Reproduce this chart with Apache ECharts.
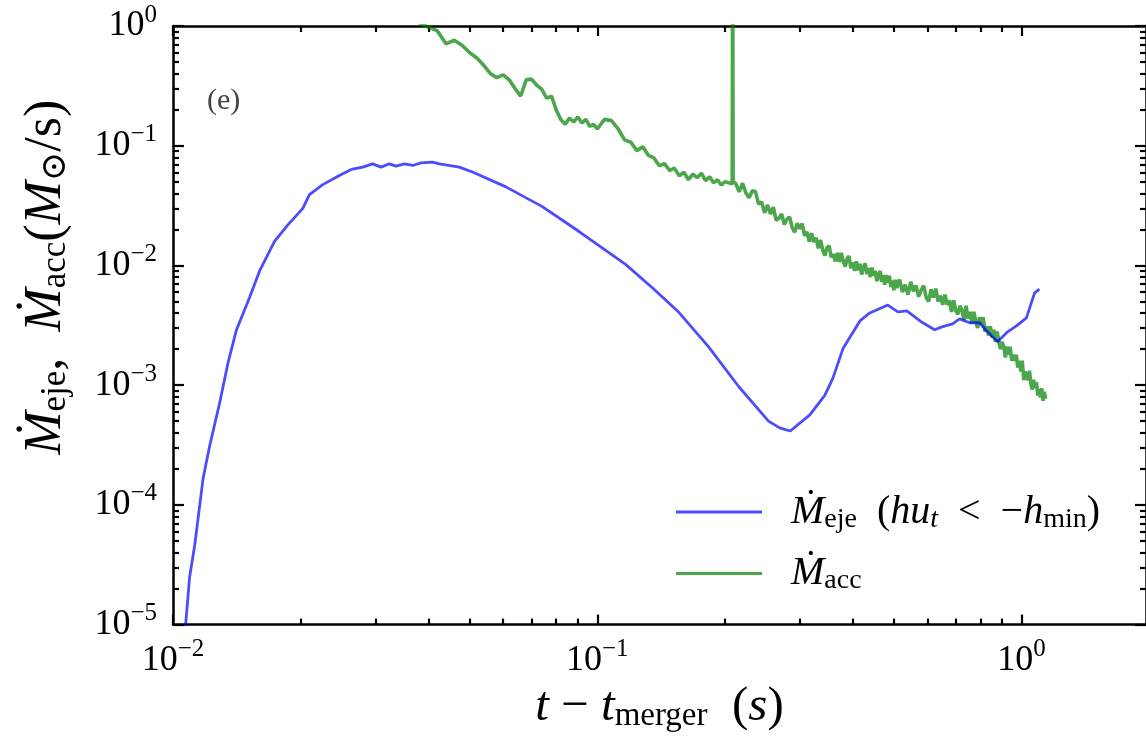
<!DOCTYPE html>
<html>
<head>
<meta charset="utf-8">
<script src="https://cdn.jsdelivr.net/npm/echarts@6/dist/echarts.min.js"></script>
<style>html,body{margin:0;padding:0;background:#fff}#c{width:1146px;height:738px}</style>
</head>
<body>
<div id="c"></div>
<script>
// ---- data ----
const blueT = [0.01065,0.01071,0.01094,0.01125,0.01177,0.01220,0.01288,0.01347,0.01410,0.01515,0.0160,0.01735,0.01865,0.02023,0.02097,0.02254,0.02467,0.02630,0.02800,0.02825,0.02955,0.03093,0.03236,0.03356,0.03510,0.0367,0.03842,0.0409,0.04243,0.04728,0.05081,0.0609,0.0742,0.0906,0.1166,0.1346,0.1557,0.183,0.2154,0.2533,0.269,0.285,0.317,0.344,0.359,0.3795,0.416,0.4388,0.484,0.511,0.5364,0.585,0.624,0.652,0.688,0.7145,0.7545,0.796,0.827,0.878,0.927,0.973,1.027,1.073,1.102];
const blueV = [6e-6,1.0e-5,2.47e-5,4.6e-5,1.65e-4,3.1e-4,7.1e-4,1.52e-3,2.87e-3,5.4e-3,9.0e-3,0.0159,0.0218,0.030,0.039,0.0473,0.0565,0.0634,0.0663,0.065,0.0706,0.0663,0.0706,0.0676,0.0706,0.0684,0.0719,0.0729,0.0706,0.0663,0.0603,0.0453,0.0310,0.0192,0.0102,0.00654,0.00406,0.00209,0.000975,0.000501,0.00044,0.000414,0.000565,0.000826,0.00114,0.00202,0.00344,0.00401,0.00467,0.00409,0.00417,0.00332,0.0029,0.00308,0.00325,0.00358,0.00332,0.00332,0.00285,0.00231,0.00279,0.00313,0.00365,0.00587,0.00634];

const greenT = [0.038,0.040,0.042,0.044,0.046,0.048,0.050,0.052,0.054,0.056,0.058,0.060,0.062,0.064,0.066,0.068,0.070,0.072,0.074,0.076,0.078,0.080,0.082,0.084,0.086,0.088,0.090,0.092,0.094,0.096,0.098,0.100,
 0.104,0.108,0.112,0.116,0.120,0.124,0.128,0.132,0.136,0.140,0.144,0.148,0.152,0.156,0.160,0.164,0.168,0.172,0.176,0.180,0.184,0.188,0.192,0.196,0.200,0.2080,0.2085,0.2090,
 0.212,0.216,0.220,0.224,0.228,0.232,0.236,0.240,0.244,0.248,0.252,0.256,0.260,0.264,0.268,0.272,0.276,0.280,0.284,0.288,0.292,0.296,0.300,0.304,0.308,0.312,0.316,0.320,0.324,0.328,0.332,0.336,0.340,0.344,0.348,0.352,0.356,0.360,0.364,0.368,0.372,0.376,0.380,0.384,0.388,0.392,0.396,0.400,0.404,0.408,0.412,0.416,0.420,0.424,0.428,0.432,0.436,0.440,0.444,0.448,0.452,0.456,0.460,0.464,0.468,0.472,0.476,0.480,0.484,0.488,0.492,0.496,0.500,0.504,0.508,
 0.516,0.524,0.532,0.540,0.548,0.556,0.564,0.572,0.580,0.588,0.596,0.604,0.612,0.620,0.628,0.636,0.644,0.652,0.660,0.668,0.676,0.684,0.692,0.700,0.708,0.716,0.724,0.732,0.740,0.748,0.756,0.764,0.772,0.780,0.788,0.796,0.804,0.812,0.820,0.828,0.836,0.844,0.852,0.860,0.868,0.876,0.884,0.892,0.900,0.908,0.916,0.924,0.932,0.940,0.948,0.956,0.964,0.972,0.980,0.988,0.996,1.004,1.012,1.020,1.028,1.036,1.044,1.052,1.060,1.068,1.076,1.084,1.092,1.100,1.108,1.116,1.124,1.132,1.140];
const greenV = [1.05,0.98,0.91,0.71,0.76,0.69,0.60,0.54,0.47,0.40,0.37,0.39,0.355,0.30,0.26,0.355,0.36,0.32,0.295,0.25,0.26,0.20,0.166,0.151,0.17,0.158,0.174,0.155,0.166,0.145,0.151,0.138,
 0.166,0.162,0.138,0.112,0.107,0.091,0.098,0.083,0.079,0.068,0.071,0.062,0.065,0.056,0.060,0.052,0.058,0.054,0.059,0.051,0.055,0.049,0.052,0.047,0.050,0.048,10,0.050,
 0.0484,0.0412,0.0486,0.0403,0.0368,0.0421,0.0414,0.0325,0.0339,0.0275,0.0320,0.0269,0.0307,0.0238,0.0248,0.0269,0.0220,0.0244,0.0254,0.0207,0.0189,0.0225,0.0203,0.0224,0.0177,0.0191,0.0158,0.0186,0.0157,0.0170,0.0139,0.0163,0.0134,0.0121,0.0141,0.0146,0.0117,0.0124,0.0108,0.0127,0.0107,0.0127,0.0108,0.0098,0.0114,0.0120,0.0095,0.0106,0.0090,0.0108,0.0091,0.0103,0.0084,0.0096,0.0104,0.0085,0.0095,0.0080,0.0096,0.0082,0.0090,0.0074,0.0083,0.0090,0.0073,0.0083,0.0069,0.0083,0.0072,0.0082,0.0066,0.0075,0.0062,0.0076,0.0065,
 0.0076,0.0060,0.0069,0.0057,0.0073,0.0061,0.0068,0.0055,0.0062,0.0068,0.0054,0.0050,0.0063,0.0054,0.0064,0.0050,0.0056,0.0047,0.0057,0.0047,0.0051,0.0041,0.0051,0.0042,0.0039,0.0046,0.0042,0.0035,0.0046,0.0036,0.0041,0.0033,0.0041,0.0034,0.0030,0.0037,0.0032,0.0037,0.0028,0.0031,0.0026,0.0031,0.0025,0.0029,0.0023,0.0028,0.0023,0.0020,0.0023,0.0021,0.0017,0.0021,0.0018,0.0021,0.0016,0.0018,0.0016,0.0018,0.0014,0.0016,0.0013,0.0016,0.0011,0.0013,0.0013,0.0011,0.00132,0.00103,0.00092,0.00111,0.00095,0.00106,0.00082,0.00093,0.00079,0.00094,0.00074,0.00088,0.00077];

const seriesNames = ['Meje', 'Macc'];
const xMajorTicks = [0.01, 0.1, 1];
const xMinorTicks = [0.02,0.03,0.04,0.05,0.06,0.07,0.08,0.09,0.2,0.3,0.4,0.5,0.6,0.7,0.8,0.9];
const yMajorTicks = [1e-5, 1e-4, 1e-3, 1e-2, 1e-1, 1];
const yMinorTicks = [];
[1e-5,1e-4,1e-3,1e-2,1e-1].forEach(function(d){ [2,3,4,5,6,7,8,9].forEach(function(k){ yMinorTicks.push(+(d*k).toPrecision(3)); }); });

// ---- chart ----
const F = "'Liberation Serif','DejaVu Serif',serif";
const chart = echarts.init(document.getElementById('c'), null, {renderer: 'canvas'});

function expLabel(v) {
  const e = Math.round(Math.log10(v));
  return '{b|10}{s|' + (e < 0 ? '\u2212' + (-e) : String(e)) + '}';
}
const tickRich = {
  b: {fontFamily: F, fontSize: 36, color: '#000'},
  s: {fontFamily: F, fontSize: 25, color: '#000', padding: [0, 0, 22, 0]}
};
const XMIN = 0.01, XMAX = 1.965, YMIN = 1e-5, YMAX = 1;

function xAx(pos, major, withLabel) {
  return {
    type: 'log', logBase: 10, min: XMIN, max: XMAX, position: pos,
    axisLine: {show: major, onZero: false, lineStyle: {color: '#000', width: 2.5}},
    axisTick: {show: true, inside: true, length: major ? 10 : 6, lineStyle: {color: '#000', width: 2.2},
      customValues: major ? xMajorTicks : xMinorTicks},
    axisLabel: withLabel ? {show: true, margin: 12, customValues: xMajorTicks, formatter: expLabel, rich: tickRich} : {show: false},
    splitLine: {show: false}, minorTick: {show: false}
  };
}
function yAx(pos, major, withLabel) {
  return {
    type: 'log', logBase: 10, min: YMIN, max: YMAX, position: pos,
    axisLine: {show: major, onZero: false, lineStyle: {color: '#000', width: 2.5}},
    axisTick: {show: true, inside: true, length: major ? 11 : 6, lineStyle: {color: '#000', width: 2.2},
      customValues: major ? yMajorTicks : yMinorTicks},
    axisLabel: withLabel ? {show: true, margin: 16, customValues: yMajorTicks, formatter: expLabel, rich: tickRich} : {show: false},
    splitLine: {show: false}, minorTick: {show: false}
  };
}

const xAxes = [xAx('bottom', true, true), xAx('bottom', false, false), xAx('top', true, false), xAx('top', false, false)];
xAxes[0].name = '{i|t}{n| \u2212 }{i|t}{sub|merger}{n|  (}{i|s}{n|)}';
xAxes[0].nameLocation = 'middle';
xAxes[0].nameGap = 46;
xAxes[0].nameTextStyle = {rich: {
  i: {fontFamily: F, fontStyle: 'italic', fontSize: 49, color: '#000'},
  n: {fontFamily: F, fontSize: 49, color: '#000'},
  sub: {fontFamily: F, fontSize: 33, color: '#000', padding: [18, 0, 0, 0]}
}};
const yAxes = [yAx('left', true, true), yAx('left', false, false), yAx('right', true, false), yAx('right', false, false)];
yAxes[0].name = '{m|\u1E40}{sub|eje}{n|,  }{m|\u1E40}{sub|acc}{n|(}{m|M}{sub|\u2299}{n|/s)}';
yAxes[0].nameLocation = 'middle';
yAxes[0].nameRotate = 90;
yAxes[0].nameGap = 100;
yAxes[0].nameTextStyle = {padding: [0, 0, 0, 96], rich: {
  m: {fontFamily: F, fontStyle: 'italic', fontSize: 52, color: '#000'},
  n: {fontFamily: F, fontSize: 52, color: '#000'},
  sub: {fontFamily: F, fontSize: 35, color: '#000', padding: [18, 0, 0, 0]}
}};

const legendRich = {
  sp: {width: 24},
  m: {fontFamily: F, fontStyle: 'italic', fontSize: 40, color: '#000'},
  i: {fontFamily: F, fontStyle: 'italic', fontSize: 40, color: '#000'},
  n: {fontFamily: F, fontSize: 40, color: '#000'},
  sub: {fontFamily: F, fontSize: 28, color: '#000', padding: [15, 0, 0, 0]},
  subi: {fontFamily: F, fontStyle: 'italic', fontSize: 28, color: '#000', padding: [15, 0, 0, 0]}
};
const legendText = {
  Meje: '{sp|}{m|\u1E40}{sub|eje}{n|  (}{i|hu}{subi|t}{n|  <  \u2212}{i|h}{sub|min}{n|)}',
  Macc: '{sp|}{m|\u1E40}{sub|acc}'
};

chart.setOption({
  animation: false,
  backgroundColor: '#fff',
  grid: {left: 173, top: 26, right: -2, bottom: 107, containLabel: false},
  xAxis: xAxes,
  yAxis: yAxes,
  legend: {
    orient: 'vertical', left: 671, top: 487, itemWidth: 86, itemHeight: 3, itemGap: 20,
    icon: 'rect',
    data: seriesNames,
    formatter: function (n) { return legendText[n]; },
    textStyle: {rich: legendRich}
  },
  graphic: [{type: 'text', left: 207, top: 86, style: {text: '(e)', font: '30px ' + F, fill: '#444'}}],
  series: [
    {name: seriesNames[0], type: 'line', xAxisIndex: 0, yAxisIndex: 0, showSymbol: false, symbol: 'none',
     lineStyle: {color: 'rgb(0,0,255)', opacity: 0.7, width: 2.8}, itemStyle: {color: 'rgba(0,0,255,0.7)'},
     data: blueT.map(function (t, i) { return [t, blueV[i]]; }), z: 3},
    {name: seriesNames[1], type: 'line', xAxisIndex: 0, yAxisIndex: 0, showSymbol: false, symbol: 'none',
     lineStyle: {color: 'rgb(0,128,0)', opacity: 0.7, width: 3.6}, itemStyle: {color: 'rgba(0,128,0,0.7)'},
     data: greenT.map(function (t, i) { return [t, greenV[i]]; }), z: 2}
  ]
});
</script>
</body>
</html>
